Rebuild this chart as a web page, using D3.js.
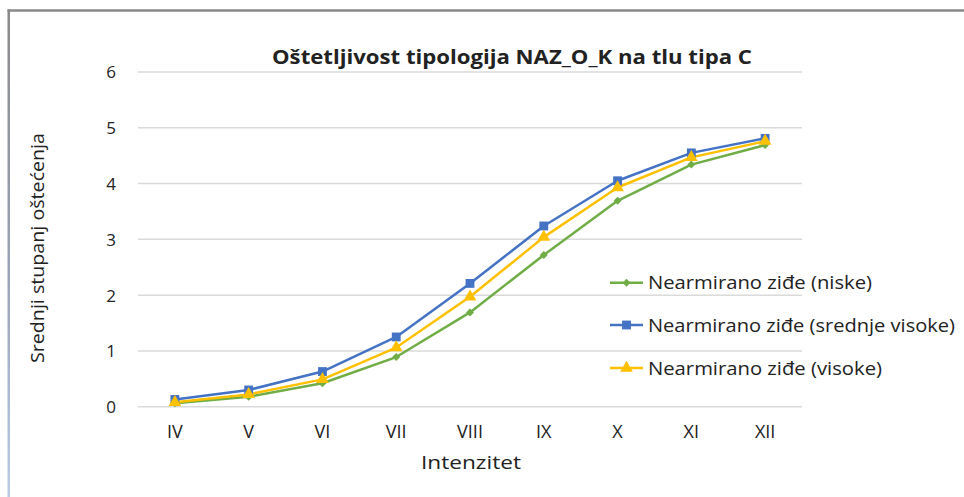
<!DOCTYPE html>
<html>
<head>
<meta charset="utf-8">
<script src="https://cdn.jsdelivr.net/npm/d3@7"></script>
<style>
  html, body { margin: 0; padding: 0; background: #fff; }
  svg { display: block; }
  text { font-family: "Open Sans", "DejaVu Sans", sans-serif; fill: #222; }
</style>
</head>
<body>
<svg id="chart" width="964" height="497"></svg>
<script>
// Intensity classes (EMS scale)
const categories = ["IV", "V", "VI", "VII", "VIII", "IX", "X", "XI", "XII"];

// Mean damage grade per intensity
const niske          = [0.06, 0.18, 0.42, 0.89, 1.69, 2.72, 3.69, 4.34, 4.69];
const srednjeVisoke  = [0.13, 0.30, 0.63, 1.25, 2.21, 3.24, 4.05, 4.55, 4.81];
const visoke         = [0.08, 0.22, 0.49, 1.06, 1.97, 3.04, 3.93, 4.47, 4.76];

const yTicks = [0, 1, 2, 3, 4, 5, 6];

const seriesNames = [
  "Nearmirano ziđe (niske)",
  "Nearmirano ziđe (srednje visoke)",
  "Nearmirano ziđe (visoke)"
];

const series = [
  { name: seriesNames[0], values: niske,         color: "#70ad47", symbol: d3.symbolSquare,   size: 32, rotate: 45 },
  { name: seriesNames[1], values: srednjeVisoke, color: "#4472c4", symbol: d3.symbolSquare,   size: 78, rotate: 0 },
  { name: seriesNames[2], values: visoke,        color: "#ffc000", symbol: d3.symbolTriangle, size: 70, rotate: 0 }
];

const svg = d3.select("#chart");

// Frame around the chart
const defs = svg.append("defs");
const grad = defs.append("linearGradient").attr("id", "leftEdge")
  .attr("x1", 0).attr("y1", 0).attr("x2", 0).attr("y2", 1);
grad.append("stop").attr("offset", "0%").attr("stop-color", "#8a8a8a");
grad.append("stop").attr("offset", "55%").attr("stop-color", "#9aa4b8");
grad.append("stop").attr("offset", "100%").attr("stop-color", "#bccbe8");
svg.append("rect").attr("x", 7.5).attr("y", 9.5).attr("width", 2.5).attr("height", 488)
  .attr("fill", "url(#leftEdge)");
svg.append("line").attr("x1", 7.5).attr("x2", 964).attr("y1", 10.5).attr("y2", 10.5)
  .attr("stroke", "#8a8a8a").attr("stroke-width", 2.5);

const plot = { left: 138, right: 802, top: 72, bottom: 406.7 };

const x = d3.scaleBand().domain(categories).range([plot.left, plot.right]);
const y = d3.scaleLinear().domain([0, 6]).range([plot.bottom, plot.top]);
const cx = c => x(c) + x.bandwidth() / 2;

// Horizontal gridlines
svg.append("g")
  .selectAll("line").data(yTicks).join("line")
  .attr("x1", plot.left).attr("x2", plot.right)
  .attr("y1", d => y(d)).attr("y2", d => y(d))
  .attr("stroke", "#dadada").attr("stroke-width", 1.5);

// Y axis labels
const yAxis = svg.append("g")
  .attr("transform", `translate(${plot.left - 22},0)`)
  .call(d3.axisLeft(y).tickValues(yTicks).tickFormat(d3.format("d")).tickSize(0).tickPadding(0));
yAxis.select(".domain").remove();
yAxis.selectAll("text")
  .attr("font-family", "'Open Sans', sans-serif")
  .attr("font-size", 17).attr("fill", "#333").attr("dy", "0.35em");

// X axis labels
const xAxis = svg.append("g")
  .attr("transform", `translate(0,${plot.bottom + 18})`)
  .call(d3.axisBottom(x).tickSize(0).tickPadding(0));
xAxis.select(".domain").remove();
xAxis.selectAll("text")
  .attr("font-family", "'Open Sans', sans-serif")
  .attr("font-size", 18).attr("fill", "#333").attr("dy", "0.75em");

// Axis titles
svg.append("text")
  .attr("x", 471).attr("y", 469)
  .attr("text-anchor", "middle").attr("font-size", 19).attr("fill", "#333")
  .attr("textLength", 100).attr("lengthAdjust", "spacingAndGlyphs")
  .text("Intenzitet");

svg.append("text")
  .attr("transform", "translate(44,248) rotate(-90)")
  .attr("text-anchor", "middle").attr("font-size", 19).attr("fill", "#333")
  .attr("textLength", 230).attr("lengthAdjust", "spacingAndGlyphs")
  .text("Srednji stupanj oštećenja");

// Title
svg.append("text")
  .attr("x", 512).attr("y", 64)
  .attr("text-anchor", "middle").attr("font-size", 19).attr("font-weight", "bold").attr("fill", "#111")
  .attr("textLength", 480).attr("lengthAdjust", "spacingAndGlyphs")
  .text("Oštetljivost tipologija NAZ_O_K na tlu tipa C");

// Lines and markers
const line = d3.line().x((d, i) => cx(categories[i])).y(d => y(d));

const g = svg.append("g");
series.forEach(s => {
  g.append("path")
    .attr("d", line(s.values))
    .attr("fill", "none").attr("stroke", s.color).attr("stroke-width", 2.5)
    .attr("stroke-linejoin", "round");
});
series.forEach(s => {
  g.append("g").selectAll("path").data(s.values).join("path")
    .attr("transform", (d, i) => `translate(${cx(categories[i])},${y(d)}) rotate(${s.rotate})`)
    .attr("d", d3.symbol().type(s.symbol).size(s.size))
    .attr("fill", s.color);
});

// Legend
const legendY = [282.7, 325, 368];
const legendW = [224, 307, 234];
const legend = svg.append("g");
series.forEach((s, i) => {
  const ly = legendY[i];
  legend.append("line")
    .attr("x1", 610).attr("x2", 643).attr("y1", ly).attr("y2", ly)
    .attr("stroke", s.color).attr("stroke-width", 2.5);
  legend.append("path")
    .attr("transform", `translate(626.5,${ly}) rotate(${s.rotate})`)
    .attr("d", d3.symbol().type(s.symbol).size(s.size))
    .attr("fill", s.color);
  legend.append("text")
    .attr("x", 648).attr("y", ly + 6.5)
    .attr("font-size", 18).attr("fill", "#222")
    .attr("textLength", legendW[i]).attr("lengthAdjust", "spacingAndGlyphs")
    .text(s.name);
});
</script>
</body>
</html>
